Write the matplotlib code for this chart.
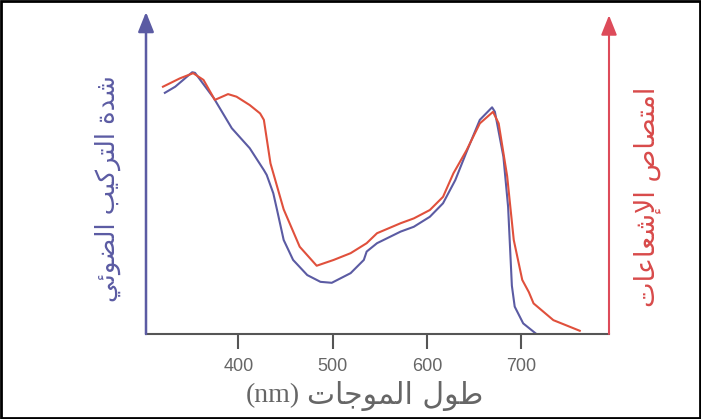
# plot.py
import numpy as np
import matplotlib
matplotlib.use("Agg")
from matplotlib import pyplot as plt
from matplotlib.patches import Rectangle

PURPLE = "#5b5ba3"
RED = "#e0503c"
RED_AXIS = "#dd4b5a"
GREY = "#555555"

# photosynthesis rate (purple) - wavelength in nm, relative value
photo_nm = [322, 333, 351, 354, 374, 393, 412, 427, 430, 437, 441, 448, 458, 473,
            487, 499, 519, 533, 536, 547, 572, 586, 603, 617, 630, 642, 656, 669,
            672, 681, 686, 690, 693, 702, 716]
photo_val = [74.9, 76.8, 81.3, 81.1, 73.2, 63.9, 57.7, 50.9, 49.4, 43.7, 38.5, 29.2,
             23.0, 18.3, 16.2, 15.9, 18.9, 23.0, 25.6, 28.2, 31.8, 33.3, 36.4, 40.6,
             47.8, 56.6, 66.5, 70.4, 69.0, 55.1, 39.5, 15.0, 8.5, 3.3, 0.0]

# light absorption (red)
absorb_nm = [320, 338, 352, 363, 375, 389, 398, 412, 423, 427, 434, 448, 465, 483,
             501, 519, 536, 547, 572, 586, 603, 617, 628, 642, 656, 670, 676, 685,
             692, 701, 708, 713, 734, 762]
absorb_val = [76.8, 79.4, 81.0, 78.9, 72.7, 74.5, 73.7, 71.1, 68.5, 66.5, 53.0, 38.7,
              27.1, 21.2, 23.0, 25.1, 28.2, 31.3, 34.4, 35.9, 38.5, 42.6, 49.9, 57.1,
              65.4, 69.0, 65.4, 49.0, 29.2, 16.8, 13.0, 9.5, 4.3, 1.0]

ticks = [400, 500, 600, 700]

# --- minimal arabic shaping (matplotlib has no complex text layout) ---
FORMS = {
    "\u0627": ("\uFE8D", "\uFE8E", None, None),
    "\u0625": ("\uFE87", "\uFE88", None, None),
    "\u0628": ("\uFE8F", "\uFE90", "\uFE91", "\uFE92"),
    "\u0629": ("\uFE93", "\uFE94", None, None),
    "\u062A": ("\uFE95", "\uFE96", "\uFE97", "\uFE98"),
    "\u062C": ("\uFE9D", "\uFE9E", "\uFE9F", "\uFEA0"),
    "\u062F": ("\uFEA9", "\uFEAA", None, None),
    "\u0631": ("\uFEAD", "\uFEAE", None, None),
    "\u0634": ("\uFEB5", "\uFEB6", "\uFEB7", "\uFEB8"),
    "\u0635": ("\uFEB9", "\uFEBA", "\uFEBB", "\uFEBC"),
    "\u0636": ("\uFEBD", "\uFEBE", "\uFEBF", "\uFEC0"),
    "\u0637": ("\uFEC1", "\uFEC2", "\uFEC3", "\uFEC4"),
    "\u0639": ("\uFEC9", "\uFECA", "\uFECB", "\uFECC"),
    "\u0643": ("\uFED9", "\uFEDA", "\uFEDB", "\uFEDC"),
    "\u0644": ("\uFEDD", "\uFEDE", "\uFEDF", "\uFEE0"),
    "\u0645": ("\uFEE1", "\uFEE2", "\uFEE3", "\uFEE4"),
    "\u0648": ("\uFEED", "\uFEEE", None, None),
    "\u064A": ("\uFEF1", "\uFEF2", "\uFEF3", "\uFEF4"),
    "\u0626": ("\uFE89", "\uFE8A", "\uFE8B", "\uFE8C"),
}
LAM_ALEF = {"\u0627": ("\uFEFB", "\uFEFC"), "\u0625": ("\uFEF9", "\uFEFA")}


def dual(c):
    return c in FORMS and FORMS[c][2] is not None


def shape(text):
    out = []
    i = 0
    while i < len(text):
        c = text[i]
        if c not in FORMS:
            out.append(c)
            i += 1
            continue
        prev_join = i > 0 and dual(text[i - 1])
        if c == "\u0644" and i + 1 < len(text) and text[i + 1] in LAM_ALEF:
            out.append(LAM_ALEF[text[i + 1]][1 if prev_join else 0])
            i += 2
            continue
        next_join = dual(c) and i + 1 < len(text) and text[i + 1] in FORMS
        iso, fin, ini, med = FORMS[c]
        if prev_join and next_join:
            out.append(med)
        elif prev_join:
            out.append(fin)
        elif next_join:
            out.append(ini)
        else:
            out.append(iso)
        i += 1
    return "".join(out)[::-1]  # visual order


fig = plt.figure(figsize=(7.01, 4.19), dpi=100)
ax = fig.add_axes([146 / 701, 85 / 419, 463 / 701, 322 / 419])

ax.plot(photo_nm, photo_val, color=PURPLE, lw=1.5, solid_joinstyle="round")
ax.plot(absorb_nm, absorb_val, color=RED, lw=1.5, solid_joinstyle="round")

ax.set_xlim(302, 793)
ax.set_ylim(0, 100)

for s in ["top", "left", "right"]:
    ax.spines[s].set_visible(False)
ax.spines["bottom"].set_color(GREY)
ax.spines["bottom"].set_linewidth(1.5)

ax.set_xticks(ticks)
ax.set_xticklabels([str(t) for t in ticks], family=["Liberation Sans"],
                   fontsize=13, color="#666666")
ax.tick_params(axis="x", direction="out", length=11, width=1.5, color=GREY, pad=6)
ax.set_yticks([])

# axis arrows
ax.annotate("", xy=(0, 1.0), xytext=(0, 0), xycoords="axes fraction",
            arrowprops=dict(arrowstyle="-|>,head_length=0.6,head_width=0.24",
                            color=PURPLE, lw=1.8, mutation_scale=20, shrinkA=0, shrinkB=0))
ax.annotate("", xy=(1, 0.99), xytext=(1, 0), xycoords="axes fraction",
            arrowprops=dict(arrowstyle="-|>,head_length=0.6,head_width=0.24",
                            color=RED_AXIS, lw=1.5, mutation_scale=20, shrinkA=0, shrinkB=0))

fig.text(108 / 701, 1 - 189 / 419, shape("شدة التركيب الضوئي"), rotation=90,
         ha="center", va="center", color=PURPLE, fontsize=18.5, family=["DejaVu Sans"])
fig.text(647 / 701, 1 - 197 / 419, shape("امتصاص الإشعاعات"), rotation=90,
         ha="center", va="center", color="#d84a4a", fontsize=19.5, family=["DejaVu Sans"])

# x label: latin unit on the left, arabic words on the right
fig.text(300 / 701, 1 - 396 / 419, "(nm)", ha="right", va="center",
         color="#666666", fontsize=20, family=["Liberation Serif"])
fig.text(307 / 701, 1 - 396 / 419, shape("طول الموجات"), ha="left", va="center",
         color="#666666", fontsize=21.5, family=["DejaVu Sans"])

# border around the picture
fig.patches.append(Rectangle((0.001, 0.002), 0.997, 0.996, transform=fig.transFigure,
                             fill=False, edgecolor="black", lw=2))

fig.savefig("out.png", dpi=100)
